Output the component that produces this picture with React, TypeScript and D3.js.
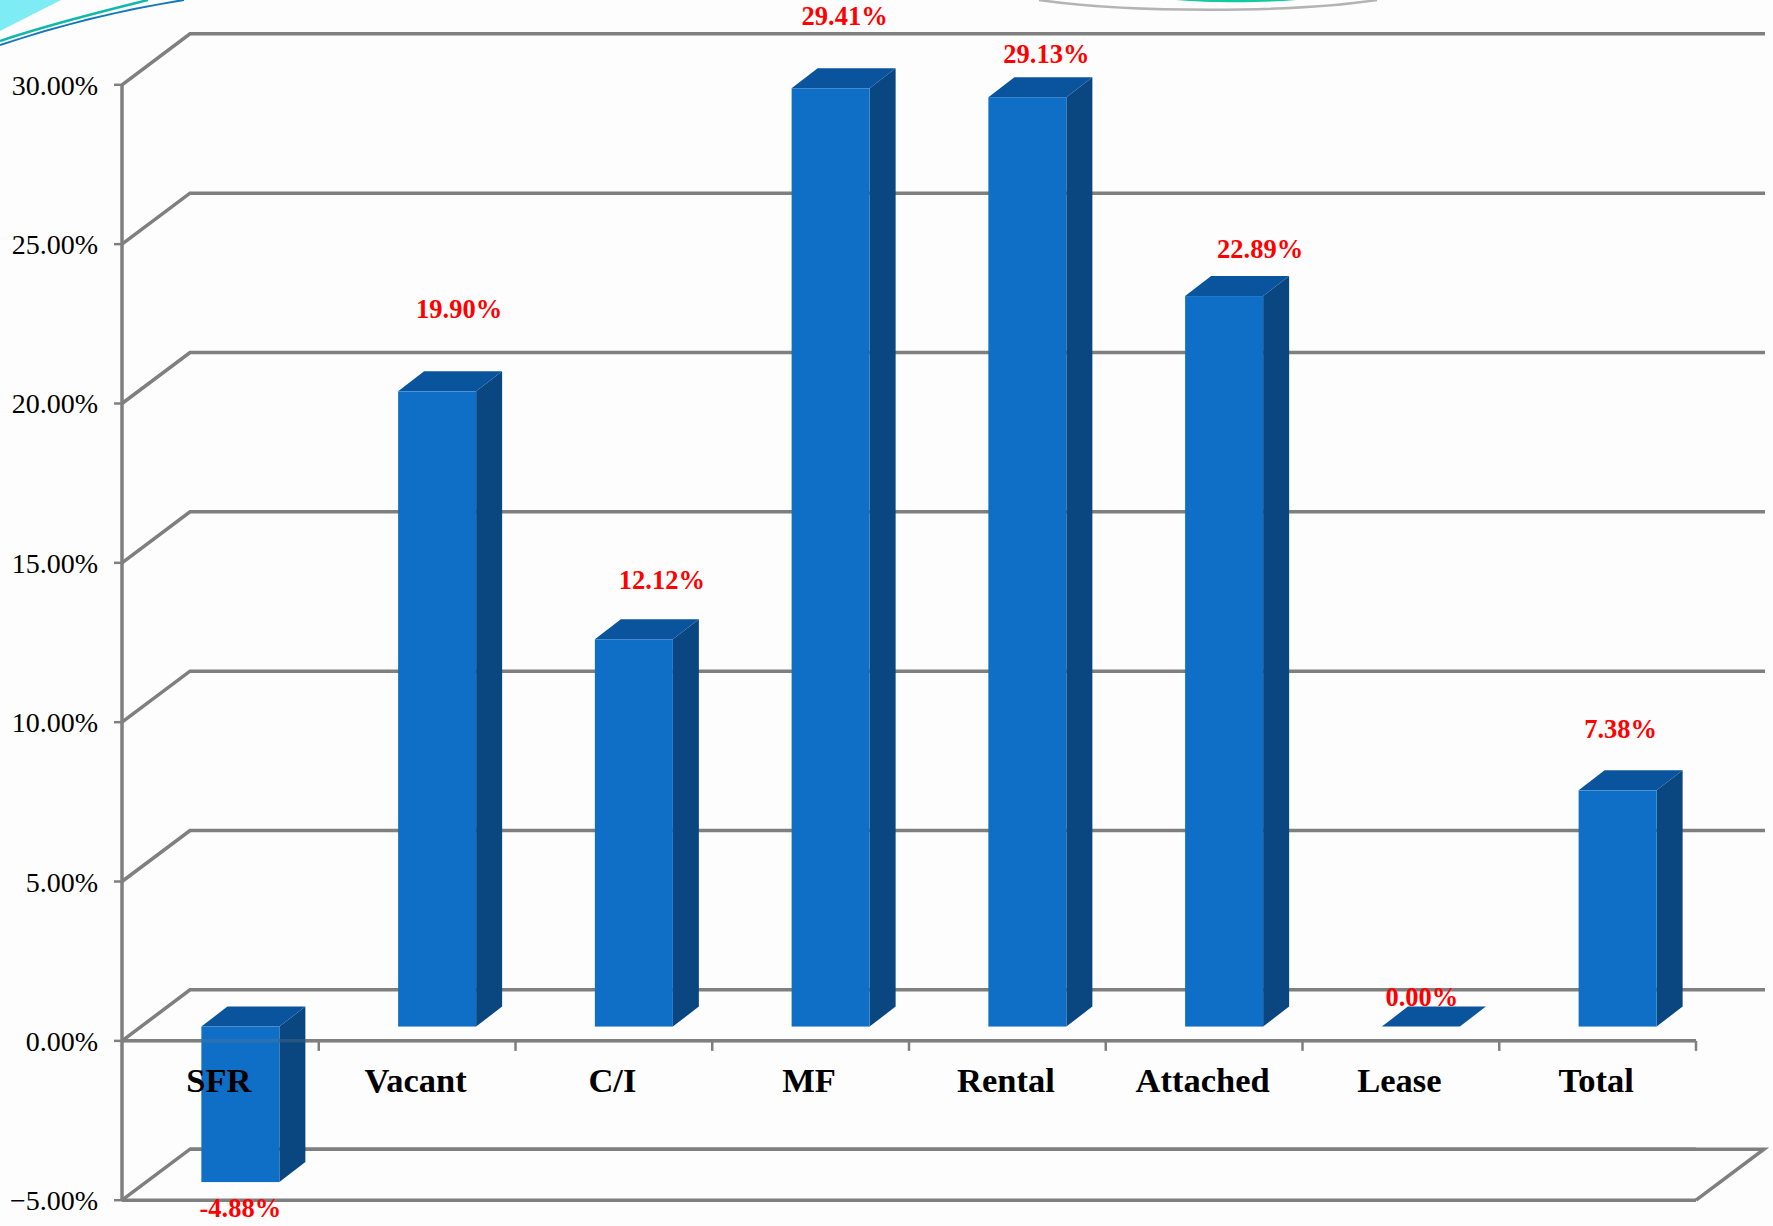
import React from "react";
import * as d3 from "d3";

const categories = ["SFR", "Vacant", "C/I", "MF", "Rental", "Attached", "Lease", "Total"];
const values = [-4.88, 19.9, 12.12, 29.41, 29.13, 22.89, 0.0, 7.38];
const valueLabels = ["-4.88%", "19.90%", "12.12%", "29.41%", "29.13%", "22.89%", "0.00%", "7.38%"];
const yTicks = [-5, 0, 5, 10, 15, 20, 25, 30];

const W = 1773;
const H = 1226;
const LINE = "#7f7f7f";
const FONT = "'Liberation Serif', serif";

// layout: 3D projection of the plot
const axisX = 122;
const plotRight = 1696;
const wallDX = 68;
const wallDY = 51;
const barShiftX = 20;
const barShiftY = 14.3;
const barDX = 26;
const barDY = 20;
// layout: per-label hand placement relative to the bar's top-centre
const labelNudge: [number, number][] = [
  [-13, 35], [9, -74], [15, -51], [1, -64], [6, -35], [23, -39], [-12, -21], [-10, -53],
];

const y = d3.scaleLinear().domain([-5, 30]).range([1200.2, 84.8]);
const x = d3.scaleBand<string>().domain(categories).range([axisX, plotRight]).paddingInner(0).paddingOuter(0);
const barW = 78;

function Bar({ name, v }: { name: string; v: number }) {
  const left = (x(name) as number) + x.bandwidth() / 2 + barShiftX - barW / 2;
  const right = left + barW;
  const y0 = y(0) - barShiftY;
  const yv = y(v) - barShiftY - (v > 0 ? 1 : 0);
  const top = Math.min(y0, yv);
  const bot = Math.max(y0, yv);
  const path = d3.path();
  path.moveTo(left, top);
  path.lineTo(left + barDX, top - barDY);
  path.lineTo(right + barDX, top - barDY);
  path.lineTo(right, top);
  path.closePath();
  const side = d3.path();
  side.moveTo(right, top);
  side.lineTo(right + barDX, top - barDY);
  side.lineTo(right + barDX, bot - barDY);
  side.lineTo(right, bot);
  side.closePath();
  return (
    <g>
      <path d={side.toString()} fill="#0a4780" />
      <path d={path.toString()} fill="#0a549e" />
      {bot > top && <rect x={left} y={top} width={barW} height={bot - top} fill="#0f6ec6" />}
    </g>
  );
}

export default function App() {
  const y0 = y(0);
  return (
    <svg width={W} height={H} viewBox={`0 0 ${W} ${H}`} style={{ position: "absolute", left: 0, top: 0, display: "block" }}>
      <rect width={W} height={H} fill="#fdfdfd" />

      {/* slide decoration */}
      <path d="M0,0 L61,0 L0,31 Z" fill="#7eecf4" />
      <path d="M0,41 C50,24 100,12 148,0" fill="none" stroke="#10b8a8" strokeWidth={2.5} />
      <path d="M0,45 C60,25 120,10 184,0" fill="none" stroke="#1478b8" strokeWidth={2} />
      <path d="M1039,0 C1130,13 1290,13 1377,0" fill="none" stroke="#b4b4b4" strokeWidth={2.5} />
      <path d="M1176,0 C1210,3 1260,3 1296,0 Z" fill="#14c8a0" />

      {/* wall and floor gridlines */}
      {yTicks.map((t) => (
        <path
          key={t}
          d={`M${axisX},${y(t)} L${axisX + wallDX},${y(t) - wallDY} L${t === -5 ? plotRight : W - 8},${y(t) - wallDY}`}
          fill="none"
          stroke={LINE}
          strokeWidth={3.5}
        />
      ))}
      <path
        d={`M${plotRight},${y(-5)} L${plotRight + wallDX},${y(-5) - wallDY} L${axisX + wallDX},${y(-5) - wallDY}`}
        fill="none"
        stroke={LINE}
        strokeWidth={3.5}
      />

      {/* axes */}
      <line x1={axisX} x2={axisX} y1={y(30)} y2={y(-5)} stroke={LINE} strokeWidth={3.5} />
      <line x1={axisX} x2={plotRight} y1={y(-5)} y2={y(-5)} stroke={LINE} strokeWidth={3.5} />
      <line x1={axisX} x2={plotRight} y1={y0} y2={y0} stroke={LINE} strokeWidth={3.5} />
      {yTicks.map((t) => (
        <line key={t} x1={axisX - 8} x2={axisX} y1={y(t)} y2={y(t)} stroke={LINE} strokeWidth={2.5} />
      ))}
      {categories.map((c) => (
        <line
          key={c}
          x1={(x(c) as number) + x.bandwidth()}
          x2={(x(c) as number) + x.bandwidth()}
          y1={y0}
          y2={y0 + 10}
          stroke={LINE}
          strokeWidth={2.5}
        />
      ))}

      {/* bars */}
      {categories.map((c, i) => (
        <Bar key={c} name={c} v={values[i]} />
      ))}
      <line x1={axisX} x2={plotRight} y1={y0} y2={y0} stroke={LINE} strokeWidth={3.5} opacity={0.25} />

      {/* y tick labels */}
      {yTicks.map((t) => (
        <text
          key={t}
          x={98}
          y={y(t) + 10}
          textAnchor="end"
          fontFamily={FONT}
          fontSize={28}
          fill="#000"
          style={{ fontFeatureSettings: "'onum'" }}
        >
          {d3.format(".2f")(t)}%
        </text>
      ))}

      {/* category labels */}
      {categories.map((c) => (
        <text
          key={c}
          x={(x(c) as number) + x.bandwidth() / 2 - 1.5}
          y={1092}
          textAnchor="middle"
          fontFamily={FONT}
          fontWeight="bold"
          fontSize={34.5}
          fill="#000"
        >
          {c}
        </text>
      ))}

      {/* value labels */}
      {categories.map((c, i) => {
        const cx = (x(c) as number) + x.bandwidth() / 2 + barShiftX;
        const ref = y(values[i]) - barShiftY;
        return (
          <text
            key={c}
            x={cx + labelNudge[i][0] + barDX / 2}
            y={ref + labelNudge[i][1]}
            textAnchor="middle"
            fontFamily={FONT}
            fontWeight="bold"
            fontSize={26.5}
            fill="#ff0000"
          >
            {valueLabels[i]}
          </text>
        );
      })}
    </svg>
  );
}
